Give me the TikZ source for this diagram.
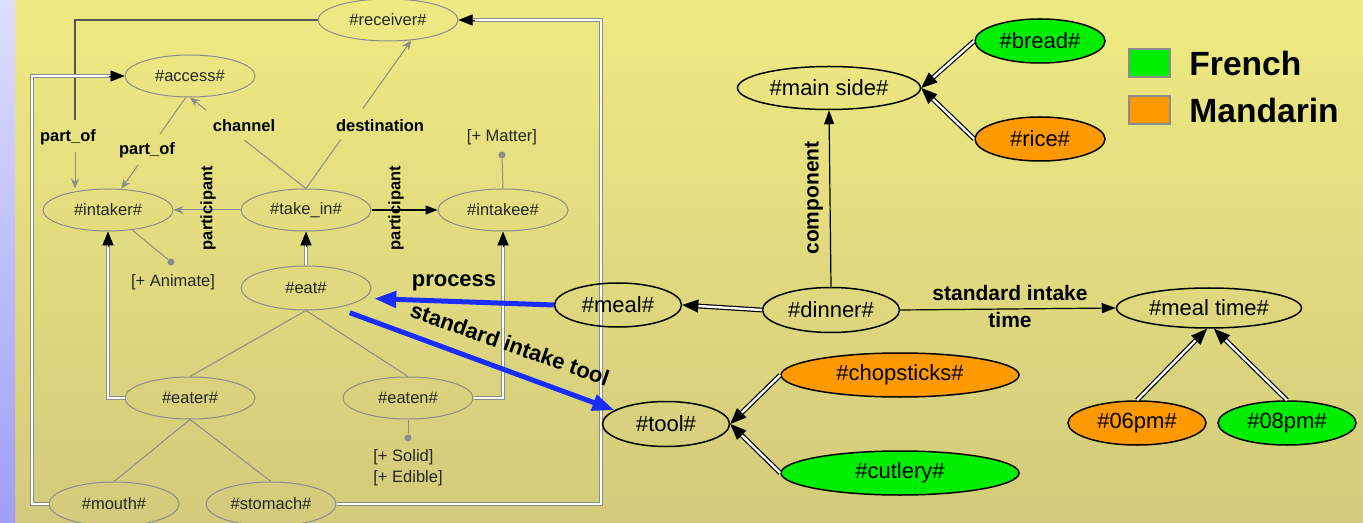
\documentclass[tikz,border=0pt]{standalone}
\usepackage{fontspec}
\setmainfont{Liberation Sans}
\usetikzlibrary{shapes.geometric,arrows.meta,calc}
\definecolor{bgtop}{RGB}{238,234,130}
\definecolor{bgbot}{RGB}{210,203,124}
\definecolor{lavtop}{RGB}{222,222,255}
\definecolor{lavbot}{RGB}{158,158,246}
\definecolor{gline}{RGB}{140,140,140}
\definecolor{dline}{RGB}{85,85,85}
\definecolor{fgreen}{RGB}{0,238,0}
\definecolor{forange}{RGB}{255,153,0}
\definecolor{bblue}{RGB}{25,45,255}
\newcommand\gsz{\fontsize{8.25}{10.5}\selectfont}
\newcommand\rsz{\fontsize{11}{13}\selectfont}
\tikzset{
 gnode/.style={ellipse, draw=gline, line width=0.5pt, minimum width=65pt, minimum height=21pt, inner sep=0pt, font=\gsz, text=black!85},
 bnode/.style={ellipse, draw=black, line width=0.75pt, minimum width=65pt, minimum height=22pt, inner sep=0pt, font=\rsz},
 glab/.style={font=\gsz\bfseries, inner sep=0pt},
 plab/.style={font=\gsz, inner sep=0pt, text=black!85},
 garrow/.style={draw=gline, line width=0.5pt, -{Stealth[length=5pt,width=4pt]}},
 gplain/.style={draw=gline, line width=0.5pt},
 gdouble/.style={draw=gline, line width=0.55pt, double=white, double distance=0.9pt, shorten >=6pt},
 bdouble/.style={draw=black, line width=0.6pt, double=white, double distance=1.2pt, shorten >=7pt},
 gtip/.style={draw=black, line width=0.3pt, -{Triangle[length=7pt,width=5.6pt]}},
 btip/.style={draw=black, line width=0.3pt, -{Triangle[length=8pt,width=6.5pt]}},
 barrow/.style={draw=black, line width=0.6pt, -{Triangle[length=7pt,width=5pt]}},
 bluearrow/.style={draw=bblue, line width=2.5pt, -{Triangle[length=11pt,width=8pt]}},
 dotn/.style={circle, fill=gline, inner sep=0pt, minimum size=3.5pt},
 rlab/.style={font=\fontsize{10.5}{12}\selectfont\bfseries, inner sep=0pt},
 blab/.style={font=\fontsize{11}{13}\selectfont\bfseries, inner sep=0pt},
 legbox/.style={draw=gline, line width=1pt, minimum width=20.5pt, minimum height=14pt, inner sep=0pt},
 legtext/.style={font=\fontsize{16.8}{20}\selectfont\bfseries, anchor=west, inner sep=0pt},
}
% tip helper: #1 style, #2 from-point, #3 end-point
\newcommand\tipat[3]{\draw[#1] ($(#3)!8pt!(#2)$) -- (#3);}
\begin{document}
\begin{tikzpicture}[x=0.5pt,y=-0.5pt]
\useasboundingbox (0,0) rectangle (1363,523);
\shade[top color=bgtop,bottom color=bgbot] (0,0) rectangle (1363,523);
\shade[top color=lavtop,bottom color=lavbot] (0,0) rectangle (15,523);

% gray network nodes
\node[gnode, minimum width=70pt] (receiver) at (388,20) {\#receiver\#};
\node[gnode] (access) at (190,76) {\#access\#};
\node[gnode] (intaker) at (108,210) {\#intaker\#};
\node[gnode] (takein) at (306,210) {\#take\_in\#};
\node[gnode] (intakee) at (503,210) {\#intakee\#};
\node[gnode, minimum height=22pt] (eat) at (306,288) {\#eat\#};
\node[gnode] (eater) at (190,398) {\#eater\#};
\node[gnode] (eaten) at (408,398) {\#eaten\#};
\node[gnode, minimum height=22pt] (mouth) at (114,504) {\#mouth\#};
\node[gnode, minimum height=22pt] (stomach) at (271,504) {\#stomach\#};

% gray labels
\node[glab] (lpo1) at (68,137) {part\_of};
\node[glab] (lpo2) at (147,150) {part\_of};
\node[glab] (lch) at (244,126) {channel};
\node[glab] (lds) at (380,126) {destination};

% gray edges with gaps
\coordinate (chA) at ($(takein.north)!0.53!(access.south)$);
\coordinate (chB) at ($(takein.north)!0.86!(access.south)$);
\draw[gplain] (takein.north) -- (chA);
\draw[garrow] (chB) -- (access.south);
\coordinate (dsA) at ($(takein.north)!0.33!(receiver.-41)$);
\coordinate (dsB) at ($(takein.north)!0.54!(receiver.-41)$);
\draw[gplain] (takein.north) -- (dsA);
\draw[garrow] (dsB) -- (receiver.-41);
\coordinate (poA) at (75,120);
\coordinate (poB) at (75,152);
\draw[draw=dline, line width=0.9pt] (receiver.west) -| (poA);
\draw[garrow] (poB) -- (poB |- intaker.north);
\coordinate (pbA) at ($(access.-101)!0.40!(intaker.58)$);
\coordinate (pbB) at ($(access.-101)!0.74!(intaker.58)$);
\draw[gplain] (access.-101) -- (pbA);
\draw[garrow] (pbB) -- (intaker.58);
\draw[garrow] (takein.west) -- (intaker.east);
\draw[draw=black, line width=0.6pt, -{Triangle[length=6pt,width=4.5pt]}] (takein.east) -- (intakee.west);
\node[glab, rotate=90] (lp1) at (208,208) {participant};
\node[glab, rotate=90] (lp2) at (396,208) {participant};

% property dots
\node[dotn] (dM) at (502,155) {};
\node[plab] (tM) at (502,137) {[+ Matter]};
\draw[gplain] (intakee.north) -- (dM);
\node[dotn] (dA) at (171,262) {};
\node[plab] (tA) at (173,282) {[+ Animate]};
\draw[gplain] (intaker) -- (dA);
\node[dotn] (dS) at (408,438) {};
\node[plab, align=left] (tS) at (408,468) {{[+ Solid]}\\{[+ Edible]}};
\draw[gplain] (eaten.south) -- (dS);

% tree
\draw[gplain] (eat.south) -- (eater.north);
\draw[gplain] (eat.south) -- (eaten.north);
\draw[gplain] (eater.south) -- (mouth.north);
\draw[gplain] (eater.south) -- (stomach.north);

% gray double edges
\coordinate (cL) at (32,76);
\coordinate (cR) at (601,20);
\draw[gdouble] (eat.north) -- (takein.south);
\tipat{gtip}{eat.north}{takein.south}
\draw[gdouble] (eater.west) -| (intaker.south);
\tipat{gtip}{eater.west -| intaker.south}{intaker.south}
\draw[gdouble] (eaten.east) -| (intakee.south);
\tipat{gtip}{eaten.east -| intakee.south}{intakee.south}
\draw[gdouble] (mouth.west) -| (cL) -- (access.west);
\tipat{gtip}{cL}{access.west}
\draw[gdouble] (stomach.east) -| (cR) -- (receiver.east);
\tipat{gtip}{cR}{receiver.east}

% right network nodes
\node[bnode, minimum width=91.5pt, minimum height=21.5pt] (mainside) at (829,88) {\#main side\#};
\node[bnode, fill=fgreen] (bread) at (1040,41) {\#bread\#};
\node[bnode, fill=forange] (rice) at (1040,139) {\#rice\#};
\node[bnode, minimum width=63.5pt] (meal) at (618,305) {\#meal\#};
\node[bnode, minimum width=68.5pt, minimum height=22.5pt] (dinner) at (831,310) {\#dinner\#};
\node[bnode, minimum width=92.5pt, minimum height=20pt] (mealtime) at (1209,308) {\#meal time\#};
\node[bnode, fill=forange, minimum width=119pt] (chopsticks) at (900,375) {\#chopsticks\#};
\node[bnode, fill=fgreen, minimum width=119pt] (cutlery) at (900,473) {\#cutlery\#};
\node[bnode, minimum width=63.5pt, minimum height=22.5pt] (tool) at (666,424) {\#tool\#};
\node[bnode, fill=forange, minimum width=69pt] (pm06) at (1137,423) {\#06pm\#};
\node[bnode, fill=fgreen, minimum width=69pt] (pm08) at (1287,423) {\#08pm\#};
\coordinate (mtA) at ([xshift=-1pt]mealtime.south);
\coordinate (mtB) at ([xshift=2.5pt]mealtime.south);

% right edges
\draw[barrow] (dinner.north) -- (mainside.south);
\node[rlab, rotate=90] (lcomp) at (814,198) {component};
\draw[bdouble] (bread.west) -- (mainside.east);
\tipat{btip}{bread.west}{mainside.east}
\draw[bdouble] (rice.west) -- (mainside.east);
\tipat{btip}{rice.west}{mainside.east}
\draw[bdouble] (dinner.west) -- (meal.east);
\tipat{btip}{dinner.west}{meal.east}
\draw[barrow] (dinner.east) -- (mealtime.west);
\node[rlab] (lsi1) at (1010,293) {standard intake};
\node[rlab] (lsi2) at (1010,320) {time};
\draw[bdouble] (chopsticks.west) -- (tool.east);
\tipat{btip}{chopsticks.west}{tool.east}
\draw[bdouble] (cutlery.west) -- (tool.east);
\tipat{btip}{cutlery.west}{tool.east}
\draw[bdouble] (pm06.north) -- (mtA);
\tipat{btip}{pm06.north}{mtA}
\draw[bdouble] (pm08.north) -- (mtB);
\tipat{btip}{pm08.north}{mtB}

% blue arrows
\draw[bluearrow, shorten >=5pt] (meal.west) -- (eat.-10);
\draw[bluearrow, shorten <=7pt] (eat.-33) -- (tool.165);
\node[blab] (lproc) at (454,283) {process};
\node[blab, rotate=-19.5] (lsit) at (510,344) {standard intake tool};

% legend
\node[legbox, fill=fgreen] (lgF) at (1149.5,63) {};
\node[legbox, fill=forange] (lgM) at (1149.5,110.5) {};
\node[legtext] (tF) at (1189,63) {French};
\node[legtext] (tMd) at (1189,110.5) {Mandarin};
\end{tikzpicture}
\end{document}
